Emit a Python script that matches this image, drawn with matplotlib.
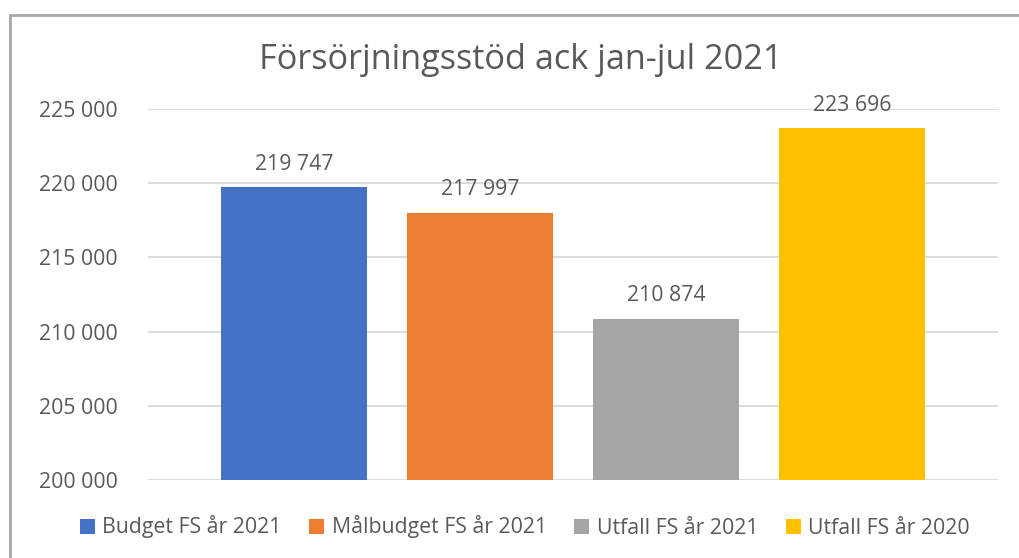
import matplotlib.pyplot as plt
from matplotlib.patches import Rectangle
from matplotlib.ticker import FuncFormatter

plt.rcParams['font.family'] = ['Open Sans', 'DejaVu Sans']

title = 'Försörjningsstöd ack jan-jul 2021'
labels = ['Budget FS år 2021', 'Målbudget FS år 2021', 'Utfall FS år 2021', 'Utfall FS år 2020']
values = [219747, 217997, 210874, 223696]
colors = ['#4472C4', '#ED7D31', '#A5A5A5', '#FFC000']
yticks = [200000, 205000, 210000, 215000, 220000, 225000]

text_col = '#595959'


def fmt(v, pos=None):
    return '{:,.0f}'.format(v).replace(',', ' ')


fig = plt.figure(figsize=(10.19, 5.58), dpi=100)
ax = fig.add_axes([0.1452, 0.1398, 0.8342, 0.6649])

# chart border (top and left visible in the crop)
fig.patches.append(Rectangle((0.0098, -0.1), 1.2, 1.073, transform=fig.transFigure,
                             fill=False, edgecolor='#A6A6A6', linewidth=2))

x = range(len(values))
for i in x:
    ax.bar(i, values[i], width=0.785, color=colors[i], label=labels[i], zorder=2)
    ax.annotate(fmt(values[i]), (i, values[i]), xytext=(0, 16.5), textcoords='offset points',
                ha='center', va='center', fontsize=15.3, color=text_col)

ax.set_ylim(200000, 225000)
ax.set_xlim(-0.785, 3.785)
ax.set_yticks(yticks)
ax.yaxis.set_major_formatter(FuncFormatter(fmt))
ax.tick_params(axis='y', length=0, pad=21.5, labelsize=15.3, labelcolor=text_col)
ax.set_xticks([])
ax.grid(axis='y', color='#D9D9D9', linewidth=1.3, zorder=0)
for s in ax.spines.values():
    s.set_visible(False)

fig.text(0.511, 1 - 60 / 558, title, ha='center', va='center', fontsize=24.7, color=text_col)

fig.legend(loc='center', bbox_to_anchor=(0.515, 1 - 527 / 558), ncol=4, frameon=False,
           fontsize=15.3, handlelength=0.7, handleheight=0.7, handletextpad=0.35,
           columnspacing=1.3, labelcolor=text_col)

fig.savefig('out.png', dpi=100)
